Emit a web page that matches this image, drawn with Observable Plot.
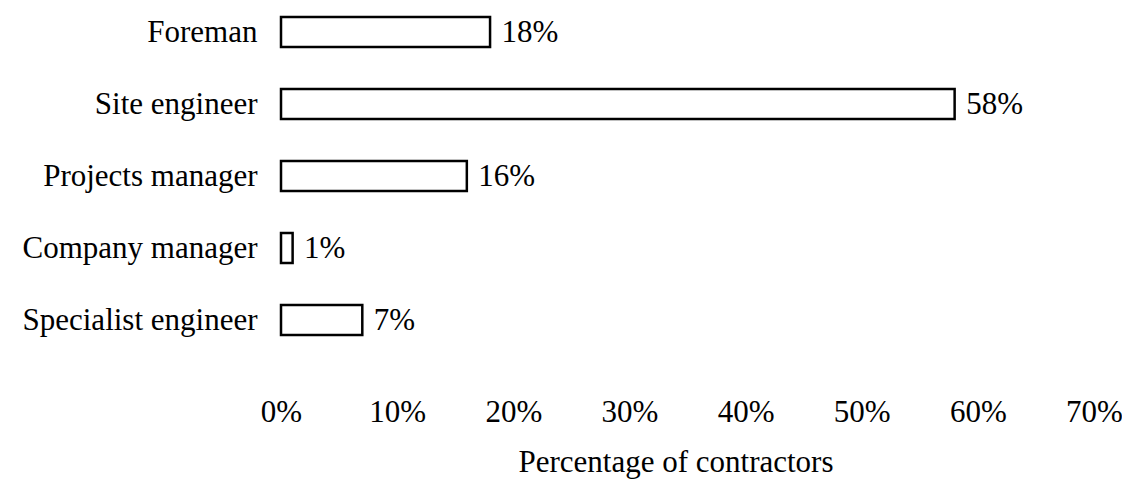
<!DOCTYPE html>
<html>
<head>
<meta charset="utf-8">
<script src="https://cdn.jsdelivr.net/npm/d3@7"></script>
<script src="https://cdn.jsdelivr.net/npm/@observablehq/plot@0.6"></script>
<style>
  html, body { margin: 0; padding: 0; background: #fff; }
  #chart svg { display: block; }
</style>
</head>
<body>
<div id="chart"></div>
<script>
// Role of the person responsible, share of contractors
const roles = ["Foreman", "Site engineer", "Projects manager", "Company manager", "Specialist engineer"];
const shares = [18, 58, 16, 1, 7];
const xTicks = [0, 10, 20, 30, 40, 50, 60, 70];
const xTitle = "Percentage of contractors";

const rows = roles.map((role, i) => ({role, share: shares[i]}));

const chart = Plot.plot({
  width: 1122,
  height: 482,
  marginLeft: 281,
  marginRight: 28,
  marginTop: 0,
  marginBottom: 130,
  style: {
    fontFamily: "'Liberation Serif', 'Times New Roman', serif",
    fontSize: "31px",
    background: "#fff",
    color: "#000"
  },
  x: {domain: [0, 70]},
  y: {domain: roles, paddingInner: 0.58, paddingOuter: 0.21},
  marks: [
    Plot.barX(rows, {x: "share", y: "role", fill: "#fff", stroke: "#000", strokeWidth: 2.5}),
    Plot.text(rows, {x: "share", y: "role", text: d => `${d.share}%`, textAnchor: "start", dx: 11, fill: "#000"}),
    Plot.axisY({tickSize: 0, tickPadding: 24, label: null}),
    Plot.axisX({
      ticks: xTicks,
      tickFormat: d => `${d}%`,
      tickSize: 0,
      tickPadding: 47,
      label: null
    }),
    // axis title under the tick labels
    Plot.text([xTitle], {
      frameAnchor: "bottom",
      text: d => d,
      lineAnchor: "middle",
      dy: 110,
      dx: -12,
      fill: "#000"
    })
  ]
});

document.getElementById("chart").appendChild(chart);
</script>
</body>
</html>
